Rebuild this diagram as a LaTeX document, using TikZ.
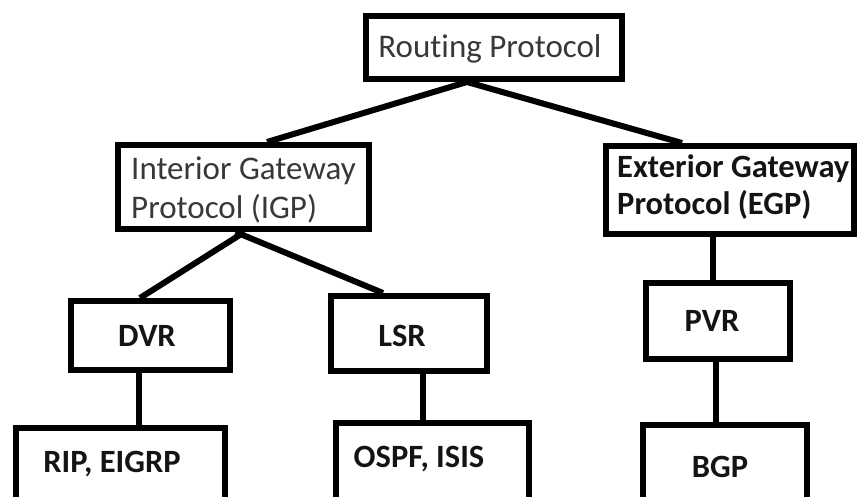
\documentclass[tikz,border=0pt]{standalone}
\usepackage{fontspec}
\setmainfont{Carlito}[Ligatures=NoCommon]
\begin{document}
\begin{tikzpicture}[x=1pt,y=-1pt,
  box/.style={draw=black,line width=6pt,rectangle,inner sep=0pt,fill=none},
  conn/.style={draw=black,line width=6pt},
  reg/.style={inner sep=0pt,text=black!78,font=\fontsize{33}{40}\selectfont},
  bld/.style={inner sep=0pt,text=black!92,font=\fontsize{32.5}{38}\selectfont\bfseries}]
\useasboundingbox (0,0) rectangle (858,497);
\clip (0,0) rectangle (858,497);
% boxes
\node[box,minimum width=256pt,minimum height=63pt] (rp) at (494,47.5) {};
\node[box,minimum width=251pt,minimum height=84pt] (igp) at (243.5,187) {};
\node[box,minimum width=248pt,minimum height=88pt] (egp) at (730,190) {};
\node[box,minimum width=159pt,minimum height=69pt] (dvr) at (150.5,335.5) {};
\node[box,minimum width=156pt,minimum height=75pt] (lsr) at (409,333.5) {};
\node[box,minimum width=144pt,minimum height=76pt] (pvr) at (718,321) {};
\node[box,minimum width=209pt,minimum height=92pt] (rip) at (120.5,474) {};
\node[box,minimum width=193pt,minimum height=97pt] (ospf) at (432.5,471.5) {};
\node[box,minimum width=164pt,minimum height=95pt] (bgp) at (725,472.5) {};
% texts
\node[reg,anchor=base] (rpt) at (490,58) {Routing Protocol};
\node[reg,anchor=base west,align=left,font=\fontsize{33}{39}\selectfont] (igpt) at (131,218) {Interior Gateway\\Protocol (IGP)};
\node[bld,anchor=base west,align=left,font=\fontsize{32.5}{37}\selectfont\bfseries] (egpt) at (617,214) {Exterior Gateway\\Protocol (EGP)};
\node[bld,anchor=base] (dvrt) at (147,346) {DVR};
\node[bld,anchor=base] (lsrt) at (402,346) {LSR};
\node[bld,anchor=base] (pvrt) at (712,331) {PVR};
\node[bld,anchor=base] (ript) at (112,472) {RIP, EIGRP};
\node[bld,anchor=base] (ospft) at (419,467) {OSPF, ISIS};
\node[bld,anchor=base] (bgpt) at (720,477) {BGP};
% connectors
\draw[conn] ([xshift=-27pt]rp.south) -- ([xshift=23.5pt]igp.north);
\draw[conn] ([xshift=-27pt]rp.south) -- ([xshift=-48pt]egp.north);
\draw[conn] ([xshift=1pt]igp.south) -- ([xshift=-10.5pt]dvr.north);
\draw[conn] ([xshift=-8pt]igp.south) -- ([xshift=-26pt]lsr.north);
\draw[conn] ([xshift=-5pt]pvr.north |- egp.south) -- ([xshift=-5pt]pvr.north);
\draw[conn] ([xshift=-2pt]pvr.south) -- ([xshift=-2pt]pvr.south |- bgp.north);
\draw[conn] ([xshift=-12pt]dvr.south) -- ([xshift=-12pt]dvr.south |- rip.north);
\draw[conn] ([xshift=14pt]lsr.south) -- ([xshift=14pt]lsr.south |- ospf.north);
\end{tikzpicture}
\end{document}
